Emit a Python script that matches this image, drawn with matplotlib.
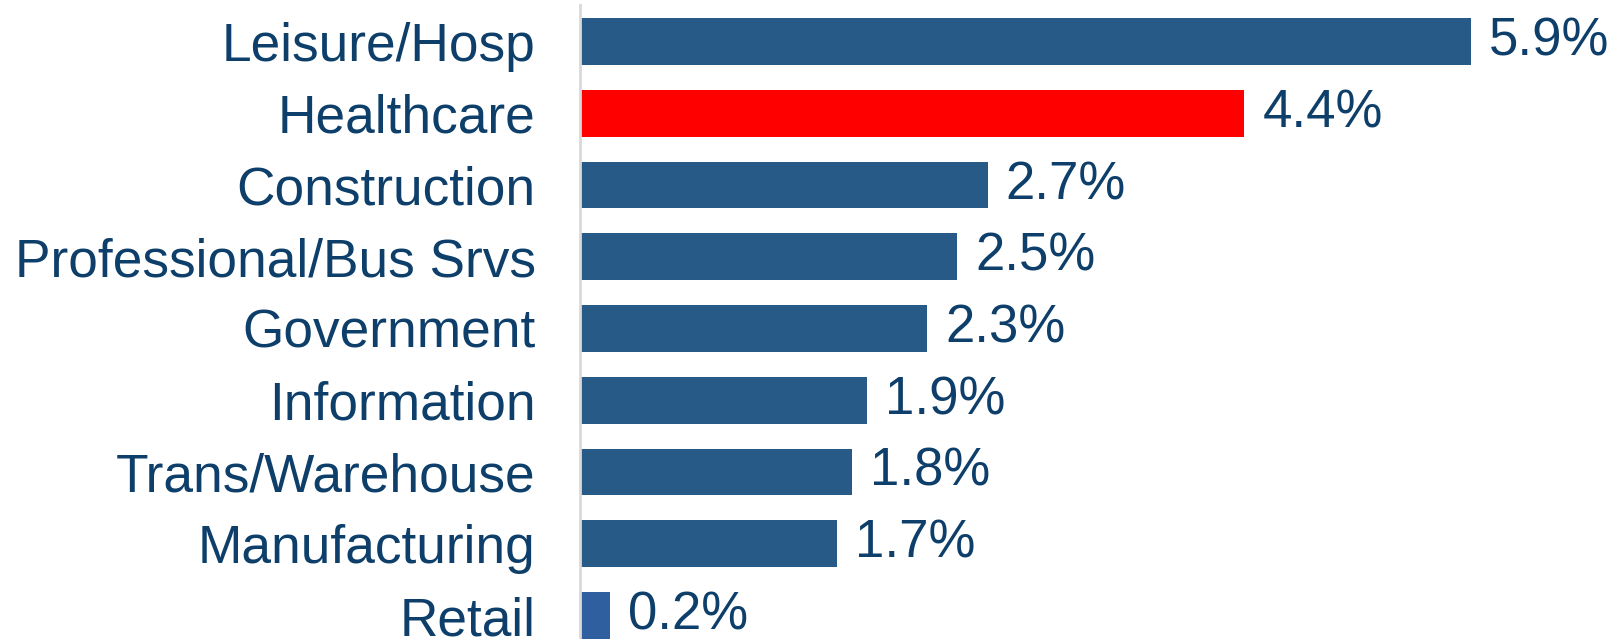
import matplotlib.pyplot as plt

plt.rcParams['font.family'] = ['Liberation Sans', 'DejaVu Sans']

# Job growth by sector
sectors = ['Leisure/Hosp', 'Healthcare', 'Construction', 'Professional/Bus Srvs',
           'Government', 'Information', 'Trans/Warehouse', 'Manufacturing', 'Retail']
growth = [5.9, 4.4, 2.7, 2.5, 2.3, 1.9, 1.8, 1.7, 0.2]
colors = ['#285A87', '#FF0000', '#285A87', '#285A87', '#285A87',
          '#285A87', '#285A87', '#285A87', '#2F5F9E']

text_color = '#0D3F6A'

fig = plt.figure(figsize=(16.24, 6.39), dpi=100)
ax = fig.add_axes([580 / 1624, 0, 1 - 580 / 1624, 634 / 639])

ypos = list(range(len(sectors)))
ax.barh(ypos, growth, height=0.655, color=colors)

for y, v in zip(ypos, growth):
    ax.text(v + 0.12, y, f'{v:.1f}%', va='center', ha='left',
            fontsize=38, color=text_color)

ax.set_xlim(0, (1624 - 580) / 151)
ax.set_ylim((639 - 41.5) / 71.75, (5 - 41.5) / 71.75)
ax.set_yticks(ypos)
ax.set_yticklabels(sectors, fontsize=38.3, color=text_color)
ax.tick_params(axis='y', length=0, pad=32)
ax.set_xticks([])

for s in ['top', 'right', 'bottom']:
    ax.spines[s].set_visible(False)
ax.spines['left'].set_color('#D9D9D9')
ax.spines['left'].set_linewidth(2)

fig.savefig('out.png', dpi=100)
